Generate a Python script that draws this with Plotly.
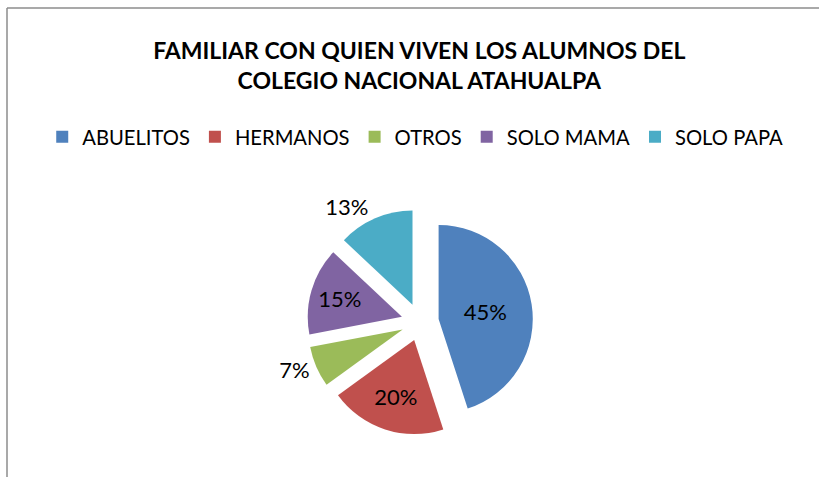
import plotly.graph_objects as go

categories = ["ABUELITOS", "HERMANOS", "OTROS", "SOLO MAMA", "SOLO PAPA"]
values = [45, 20, 7, 15, 13]
colors = ["#4F81BD", "#C0504D", "#9BBB59", "#8064A2", "#4BACC6"]
text_positions = ["inside", "inside", "outside", "inside", "outside"]
title_text = "FAMILIAR CON QUIEN VIVEN LOS ALUMNOS DEL<br>COLEGIO NACIONAL ATAHUALPA"

W, H = 819, 477
cx, cy, half = 420, 322, 113

fig = go.Figure(go.Pie(
    labels=categories,
    values=values,
    sort=False,
    direction="clockwise",
    rotation=0,
    pull=[0.2] * len(values),
    marker=dict(colors=colors, line=dict(width=0)),
    textinfo="percent",
    texttemplate="%{percent:.0%}",
    textposition=text_positions,
    insidetextfont=dict(family="Lato", size=22, color="black"),
    outsidetextfont=dict(family="Lato", size=22, color="black"),
    insidetextorientation="horizontal",
    domain=dict(x=[(cx - half) / W, (cx + half) / W],
                y=[(H - cy - half) / H, (H - cy + half) / H]),
    hoverinfo="label+percent",
))

fig.update_layout(
    width=W, height=H,
    margin=dict(l=0, r=0, t=0, b=0),
    paper_bgcolor="white",
    plot_bgcolor="white",
    font=dict(family="Lato", color="black"),
    title=dict(text=title_text, x=0.512, xanchor="center", y=1 - 59 / H, yanchor="middle",
               font=dict(family="Lato", size=23, color="black", weight="bold")),
    legend=dict(orientation="h", x=0.507, xanchor="center", y=(H - 137) / H, yanchor="middle",
                font=dict(family="Lato", size=20.2, color="black"),
                itemwidth=30, traceorder="normal"),
    shapes=[
        dict(type="line", xref="paper", yref="paper", x0=7 / W, x1=1.0, y0=1 - 8 / H, y1=1 - 8 / H,
             line=dict(color="#8C8C8C", width=1.5)),
        dict(type="line", xref="paper", yref="paper", x0=7 / W, x1=7 / W, y0=0, y1=1 - 8 / H,
             line=dict(color="#8C8C8C", width=1.5)),
    ],
)

fig.write_html("out.html", config={"displayModeBar": False},
               post_script="document.body.style.margin='0';")
